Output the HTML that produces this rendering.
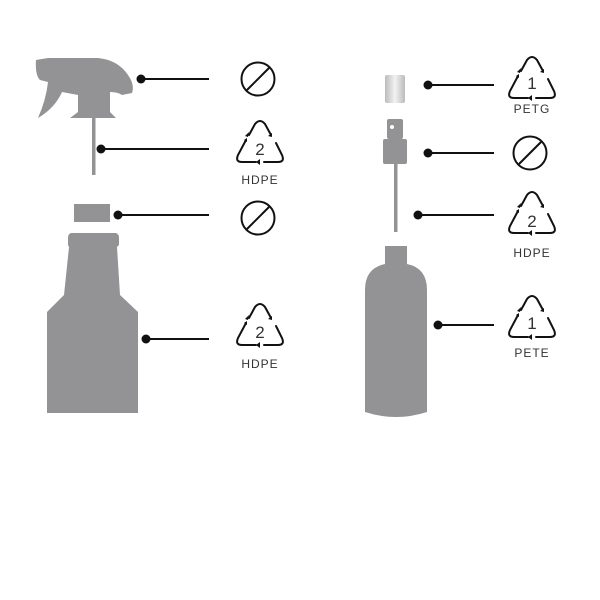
<!DOCTYPE html>
<html><head><meta charset="utf-8"><style>
html,body{margin:0;padding:0;background:#fff;}
svg{display:block;}
text{font-family:"Liberation Sans",sans-serif;fill:#333;}
</style></head><body>
<svg width="600" height="600" viewBox="0 0 600 600">
<defs>
<linearGradient id="g" x1="0" x2="1">
<stop offset="0" stop-color="#bbb"/><stop offset="0.5" stop-color="#f2f2f2"/><stop offset="1" stop-color="#bbb"/>
</linearGradient>
<g id="rec">
<path d="M-5,-19 Q0,-25 5,-19 L11,-8 M16,0 L22,12 Q25,19 18,19 L4,19 M-4,19 L-18,19 Q-25,19 -22,12 L-14,-3 M-11,-8 L-5,-19" fill="none" stroke="#111" stroke-width="2" stroke-linecap="round"/>
<path d="M12,-6 l-4,-1 l4,-3 z M-4,19 l4,-3 l0,6 z M-13,-5 l0,4 l-3,-2 z M-12,-6 l-3,-1 l4,-4 z" fill="#111"/>
</g>
<g id="no">
<circle r="16.5" fill="none" stroke="#111" stroke-width="2"/>
<line x1="-11" y1="11" x2="11" y2="-11" stroke="#111" stroke-width="2"/>
</g>
</defs>
<g fill="#939396">
<path d="M36,60 L48,58 L98,58 Q118,60 128,75 Q135,85 132,93 L122,95 Q118,92 110,92 L110,112 L116,118 L70,118 L78,112 L78,95 L62,92 Q55,108 38,118 Q46,100 48,82 L40,80 Q35,75 36,60 Z"/>
<rect x="92" y="118" width="3.5" height="57"/>
<rect x="74" y="204" width="36" height="18"/>
<path d="M71,233 L116,233 Q119,234 119,238 L119,245 L117,247 L120,295 L138,312 L138,413 L47,413 L47,312 L64,295 L69,247 L68,245 L68,238 Q68,234 71,233 Z"/>
<rect x="387" y="119" width="16" height="20" rx="2"/>
<rect x="383" y="139" width="24" height="25" rx="2"/>
<rect x="394" y="164" width="3.5" height="68"/>
<path d="M385,246 L407,246 L407,264 Q427,268 427,290 L427,412 Q396,422 365,412 L365,290 Q365,268 385,264 Z"/>
</g>
<circle cx="392" cy="127" r="2" fill="#fff"/>
<rect x="385" y="75" width="20" height="28" rx="2" fill="url(#g)"/>
<g stroke="#111" stroke-width="2">
<line x1="141" y1="79" x2="209" y2="79"/>
<line x1="101" y1="149" x2="209" y2="149"/>
<line x1="118" y1="215" x2="209" y2="215"/>
<line x1="146" y1="339" x2="209" y2="339"/>
<line x1="428" y1="85" x2="494" y2="85"/>
<line x1="428" y1="153" x2="494" y2="153"/>
<line x1="418" y1="215" x2="494" y2="215"/>
<line x1="438" y1="325" x2="494" y2="325"/>
</g>
<g fill="#111">
<circle cx="141" cy="79" r="4.5"/><circle cx="101" cy="149" r="4.5"/><circle cx="118" cy="215" r="4.5"/><circle cx="146" cy="339" r="4.5"/>
<circle cx="428" cy="85" r="4.5"/><circle cx="428" cy="153" r="4.5"/><circle cx="418" cy="215" r="4.5"/><circle cx="438" cy="325" r="4.5"/>
</g>
<use href="#no" x="258" y="79"/>
<use href="#no" x="258" y="218"/>
<use href="#no" x="530" y="153"/>
<use href="#rec" x="260" y="143"/>
<text x="260" y="155" font-size="17" text-anchor="middle">2</text>
<text x="260" y="184" font-size="12" text-anchor="middle" letter-spacing="1">HDPE</text>
<use href="#rec" x="260" y="326"/>
<text x="260" y="338" font-size="17" text-anchor="middle">2</text>
<text x="260" y="368" font-size="12" text-anchor="middle" letter-spacing="1">HDPE</text>
<use href="#rec" x="532" y="79"/>
<text x="532" y="89" font-size="17" text-anchor="middle">1</text>
<text x="532" y="113" font-size="12" text-anchor="middle" letter-spacing="1">PETG</text>
<use href="#rec" x="532" y="214"/>
<text x="532" y="227" font-size="17" text-anchor="middle">2</text>
<text x="532" y="257" font-size="12" text-anchor="middle" letter-spacing="1">HDPE</text>
<use href="#rec" x="532" y="318"/>
<text x="532" y="329" font-size="17" text-anchor="middle">1</text>
<text x="532" y="357" font-size="12" text-anchor="middle" letter-spacing="1">PETE</text>
</svg>
</body></html>
